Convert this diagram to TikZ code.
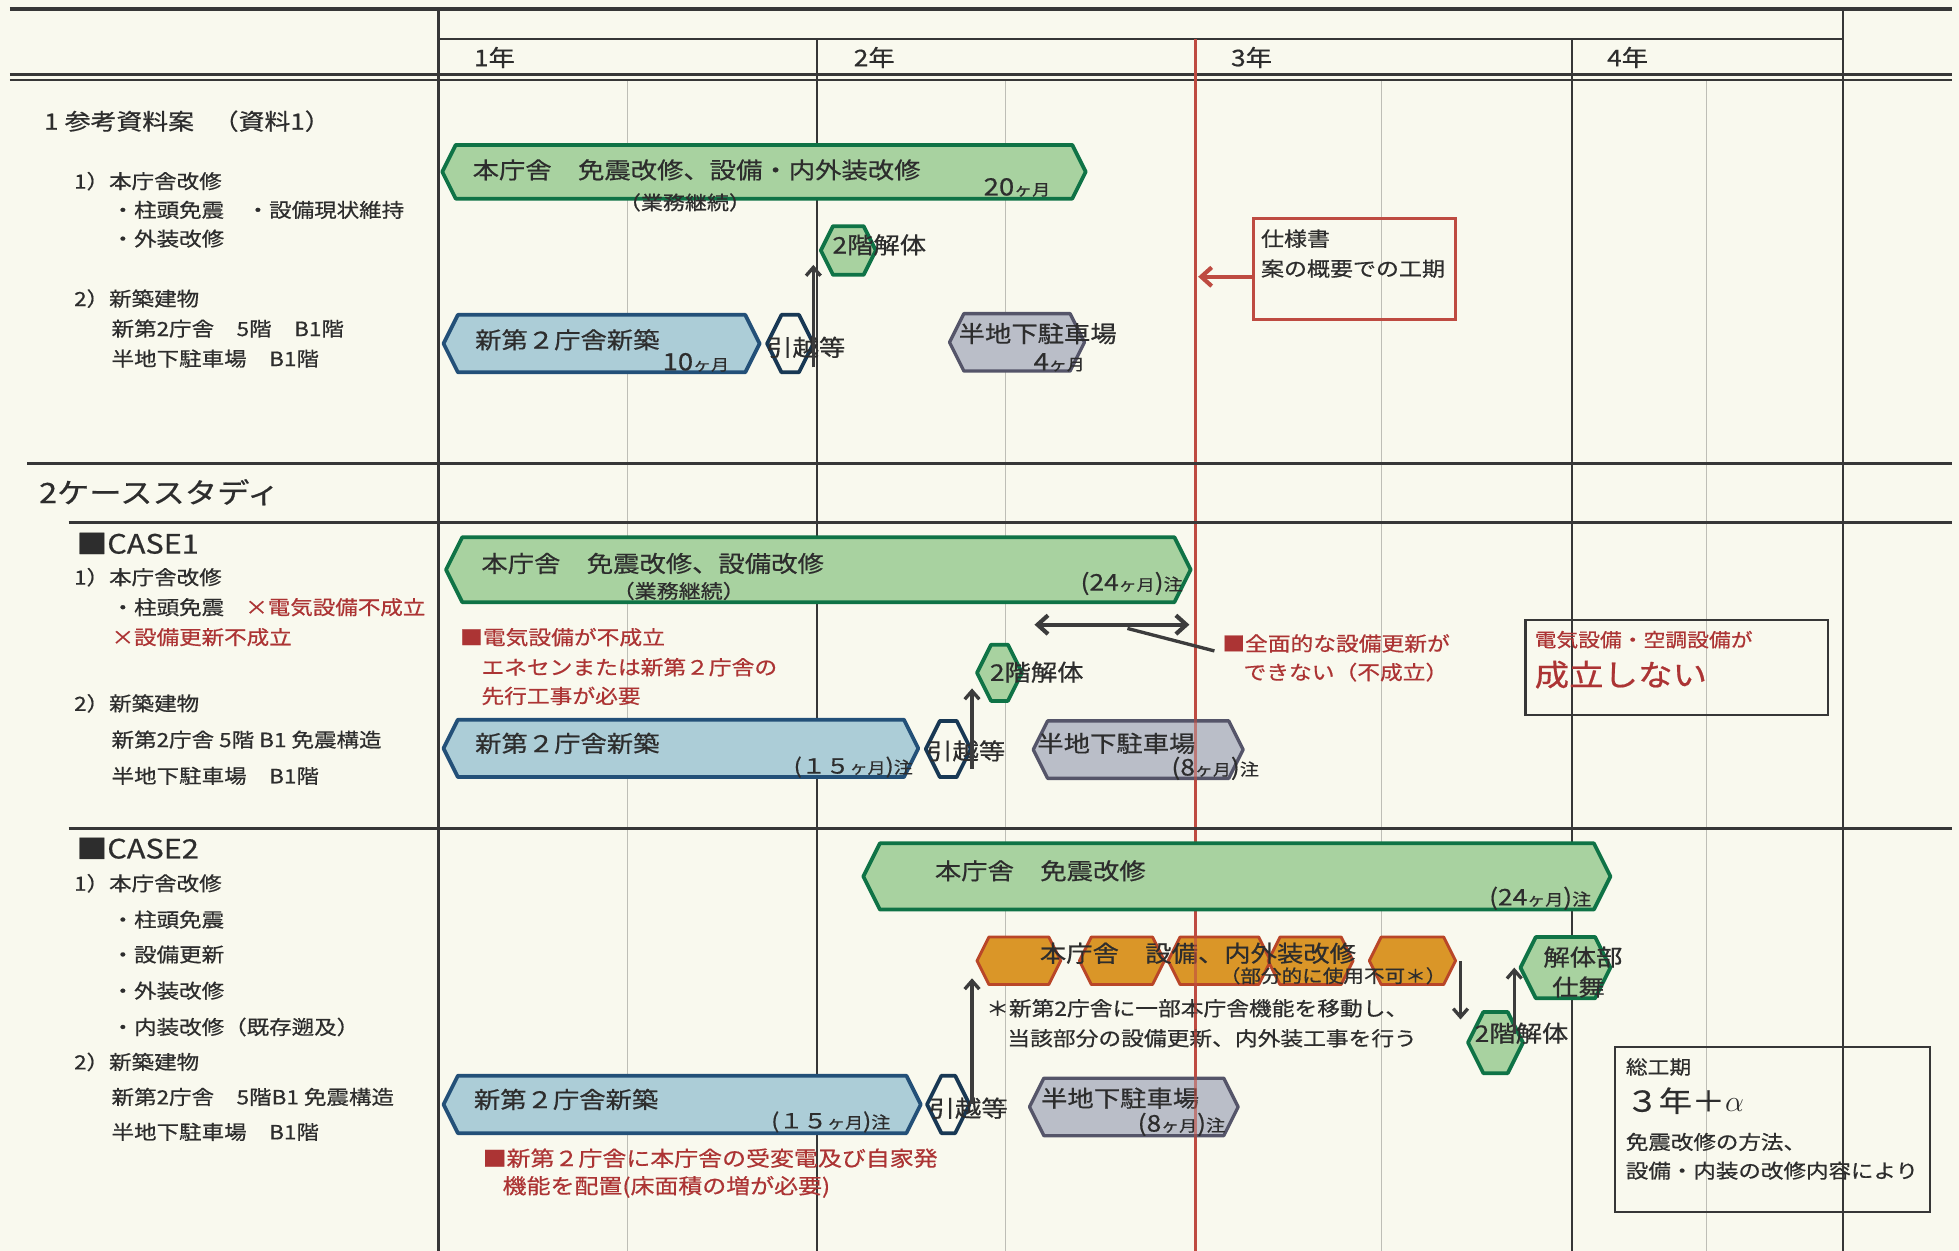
\documentclass[tikz,border=0pt]{standalone}
\usepackage{fontspec}
\setmainfont{Noto Sans CJK JP}[FakeStretch=1.15,FakeBold=0.6]
\usetikzlibrary{arrows.meta,calc}
\definecolor{bgc}{RGB}{249,249,238}
\definecolor{gridc}{RGB}{55,55,55}
\definecolor{thinc}{RGB}{190,190,182}
\definecolor{redl}{RGB}{190,75,65}
\definecolor{redt}{RGB}{172,52,52}
\definecolor{gfill}{RGB}{168,210,160}
\definecolor{gdraw}{RGB}{15,115,70}
\definecolor{bfill}{RGB}{172,205,215}
\definecolor{bdraw}{RGB}{35,80,120}
\definecolor{gyfill}{RGB}{186,190,200}
\definecolor{gydraw}{RGB}{85,85,105}
\definecolor{ofill}{RGB}{218,150,40}
\definecolor{odraw}{RGB}{185,70,40}
\definecolor{txt}{RGB}{45,45,45}
\definecolor{arrc}{RGB}{60,60,60}
\newcommand\myfs[1]{\fontsize{#1}{#1}\selectfont}
\newcommand\kagetsu{{\myfs{7.5pt}ヶ月}}
\newcommand\chu{{\myfs{8pt}注}}
\newcommand\hexbar[6]{%
  \pgfmathsetmacro\hexd{(#5-#3)*0.25}%
  \path[#6] (#2,{(#3+#5)/2}) -- ({#2+\hexd},#3) -- ({#4-\hexd},#3) -- (#4,{(#3+#5)/2}) -- ({#4-\hexd},#5) -- ({#2+\hexd},#5) -- cycle;%
  \node[inner sep=0pt,outer sep=0pt,minimum width={(#4-#2)*0.6pt},minimum height={(#5-#3)*0.6pt}] (#1) at ({(#2+#4)/2},{(#3+#5)/2}) {};%
}
\tikzset{
  t/.style={inner sep=0pt, anchor=west, text=txt},
  lab/.style={t, font={\myfs{9.4pt}}},
  btx/.style={t, font={\myfs{11pt}}},
  sub/.style={t, font={\myfs{9.2pt}}},
  note/.style={t, text=redt, font={\myfs{9.5pt}}},
  yr/.style={t, font={\myfs{11pt}}},
  dur/.style={t, font={\myfs{11.5pt}}},
  gbar/.style={fill=gfill, draw=gdraw, line width=1.8pt, line join=round},
  bbar/.style={fill=bfill, draw=bdraw, line width=1.8pt, line join=round},
  gybar/.style={fill=gyfill, draw=gydraw, line width=1.6pt, line join=round},
  hbar/.style={fill=bgc, draw=bdraw!70!black, line width=1.8pt, line join=round},
  obar/.style={fill=ofill, draw=odraw, line width=1.4pt, line join=round},
  gline/.style={draw=gridc, line width=1pt},
  gthick/.style={draw=gridc, line width=1.5pt},
  thin/.style={draw=thinc, line width=0.6pt},
  arr/.style={draw=arrc, line width=1.6pt, -{Straight Barb[length=4pt,width=7pt]}},
  darr/.style={draw=arrc, line width=2pt, {Straight Barb[length=5pt,width=9pt]}-{Straight Barb[length=5pt,width=9pt]}},
  redarr/.style={draw=redl, line width=2pt, -{Straight Barb[length=5pt,width=9pt]}},
  rbox/.style={draw=redl, line width=1.5pt, inner sep=0pt},
  kbox/.style={draw=gridc, line width=1pt, inner sep=0pt},
}
\begin{document}
\begin{tikzpicture}[x=0.6pt,y=-0.6pt]
\useasboundingbox (0,0) rectangle (1568,1001);
\fill[bgc] (0,0) rectangle (1568,1001);
% thin half-year lines
\foreach \xx in {502,805,1106,1366} \draw[thin] (\xx,64) -- (\xx,1001);
% grid
\draw[gthick, line width=1.8pt] (8,7) -- (1562,7);
\draw[gline] (351,31) -- (1475,31);
\draw[gline, line width=1.2pt] (8,59.5) -- (1562,59.5);
\draw[gline, line width=1.2pt] (8,64) -- (1562,64);
\draw[gthick] (351,7) -- (351,1001);
\draw[gline] (1475,7) -- (1475,1001);
\draw[gline] (654,31) -- (654,1001);
\draw[gline] (1258,31) -- (1258,1001);
\coordinate (redtop) at (957,31);
\coordinate (redbot) at (957,1001);
\draw[draw=redl, line width=1.3pt] (redtop) -- (redbot);
\draw[gthick, line width=1.8pt] (22,371) -- (1562,371);
\draw[gthick] (55,418) -- (1562,418);
\draw[gthick] (55,663) -- (1562,663);
% years
\node[yr] (yr1) at (379,46) {1年};
\node[yr] (yr2) at (683,46) {2年};
\node[yr] (yr3) at (985,46) {3年};
\node[yr] (yr4) at (1286,46) {4年};
% ---------- section 1 ----------
\node[lab, font={\myfs{10.8pt}}] (s1h) at (35,97) {1\hspace{3pt}参考資料案\hspace{9pt}（資料1）};
\node[lab] (s1a) at (59,145) {1）本庁舎改修};
\node[lab] (s1b) at (89,168) {・柱頭免震　・設備現状維持};
\node[lab] (s1c) at (89,191) {・外装改修};
\node[lab] (s1d) at (59,239) {2）新築建物};
\node[lab] (s1e) at (89,263) {新第2庁舎　5階　B1階};
\node[lab] (s1f) at (89,287) {半地下駐車場　B1階};
\hexbar{b1}{354}{116}{869}{159}{gbar}
\node[btx] (b1t) at (378,136) {本庁舎　免震改修、設備・内外装改修};
\node[dur] (b1d) at (787,150) {20\kagetsu};
\node[sub] (b1s) at (495,162) {（業務継続）};
\hexbar{k1}{657}{181}{701}{220}{gbar}
\node[btx] (k1t) at (666,196) {2階解体};
\hexbar{n1}{355}{252}{608}{298}{bbar}
\node[btx] (n1t) at (380,272) {新第２庁舎新築};
\node[dur] (n1d) at (530,290) {10\kagetsu};
\hexbar{h1}{614}{252}{651}{298}{hbar}
\node[btx] (h1t) at (613,278) {引越等};
\hexbar{p1}{760}{251}{868}{297}{gybar}
\node[btx] (p1t) at (767,267) {半地下駐車場};
\node[dur] (p1d) at (827,290) {4\kagetsu};
\draw[arr] ($(h1.south east)+(0,-4)$) -- ($(h1.south east |- k1.south)+(0,-8)$);
\node[rbox, minimum width=97.2pt, minimum height=48.6pt] (sy) at (1084,215.5) {};
\node[t, font={\myfs{9.6pt}}] (syt1) at (1009,191) {仕様書};
\node[t, font={\myfs{9.6pt}}] (syt2) at (1009,215) {案の概要での工期};
\draw[redarr] ($(sy.west)+(0,6)$) -- ($(sy.west -| redtop)+(2,6)$);
% ---------- section 2 / CASE1 ----------
\node[t, font={\myfs{13.5pt}}] (s2h) at (31,394) {2ケーススタディ};
\node[t, font={\myfs{12.8pt}}] (c1h) at (61,435) {■CASE1};
\node[lab] (c1a) at (59,462) {1）本庁舎改修};
\node[lab] (c1b) at (89,486) {・柱頭免震};
\node[lab, text=redt] (c1c) at (196,486) {×電気設備不成立};
\node[lab, text=redt] (c1d) at (89,510) {×設備更新不成立};
\node[lab] (c1e) at (59,563) {2）新築建物};
\node[lab] (c1f) at (89,592) {新第2庁舎 5階 B1 免震構造};
\node[lab] (c1g) at (89,621) {半地下駐車場　B1階};
\hexbar{b2}{357}{430}{953}{482}{gbar}
\node[btx] (b2t) at (385,451) {本庁舎　免震改修、設備改修};
\node[sub] (b2s) at (490,473) {（業務継続）};
\node[t, anchor=east, font={\myfs{11pt}}] (b2d) at (947,467) {(24\kagetsu)\chu};
\coordinate (da1) at (828,500);
\coordinate (da2) at (952,500);
\draw[darr] (da1) -- (da2);
\node[note] (nt1a) at (368,510) {■電気設備が不成立};
\node[note] (nt1b) at (385,534) {エネセンまたは新第２庁舎の};
\node[note] (nt1c) at (385,557) {先行工事が必要};
\node[note] (nt2a) at (978,515) {■全面的な設備更新が};
\node[note] (nt2b) at (995,538) {できない（不成立）};
\draw[draw=arrc, line width=1.6pt] ($(da1)!0.6!(da2)+(0,3)$) -- ($(nt2a.west)+(-6,6)$);
\node[kbox, minimum width=145.2pt, minimum height=45.6pt] (nb) at (1342,534) {};
\node[note, font={\myfs{9.1pt}}] (nbt1) at (1228,512) {電気設備・空調設備が};
\node[note, font={\myfs{14.4pt}}] (nbt2) at (1228,540) {成立しない};
\hexbar{k2}{782}{516}{818}{561}{gbar}
\node[btx] (k2t) at (792,538) {2階解体};
\hexbar{n2}{355}{576}{735}{622}{bbar}
\node[btx] (n2t) at (380,595) {新第２庁舎新築};
\node[t, anchor=east, font={\myfs{10pt}}] (n2d) at (731,614) {(１５\kagetsu)\chu};
\hexbar{h2}{741}{577}{777}{622}{hbar}
\node[btx] (h2t) at (741,601) {引越等};
\draw[arr] ($(h2.east)+(1,16)$) -- ($(h2.east |- k2.south)+(1,-10)$);
\hexbar{p2}{827}{577}{995}{623}{gybar}
\node[btx] (p2t) at (830,595) {半地下駐車場};
\node[t, anchor=east, font={\myfs{11pt}}] (p2d) at (1008,615) {(8\kagetsu)\chu};
% ---------- CASE2 ----------
\node[t, font={\myfs{12.8pt}}] (c2h) at (61,679) {■CASE2};
\node[lab] (c2a) at (59,707) {1）本庁舎改修};
\node[lab] (c2b) at (89,736) {・柱頭免震};
\node[lab] (c2c) at (89,764) {・設備更新};
\node[lab] (c2d) at (89,793) {・外装改修};
\node[lab] (c2e) at (89,822) {・内装改修（既存遡及）};
\node[lab] (c2f) at (59,850) {2）新築建物};
\node[lab] (c2g) at (89,878) {新第2庁舎　5階B1 免震構造};
\node[lab] (c2h2) at (89,906) {半地下駐車場　B1階};
\hexbar{b3}{691}{675}{1289}{728}{gbar}
\node[btx] (b3t) at (748,697) {本庁舎　免震改修};
\node[t, anchor=east, font={\myfs{11pt}}] (b3d) at (1274,719) {(24\kagetsu)\chu};
\hexbar{o1}{782}{750}{849}{788}{obar}
\hexbar{o2}{864}{750}{932}{788}{obar}
\hexbar{o3}{935}{750}{1017}{788}{obar}
\hexbar{o4}{1015}{750}{1083}{788}{obar}
\hexbar{o5}{1096}{750}{1165}{788}{obar}
\node[btx] (o1t) at (832,763) {本庁舎　設備、内外装改修};
\node[t, anchor=east, font={\myfs{8.6pt}}] (o1s) at (1158,781) {（部分的に使用不可＊）};
\node[t, font={\myfs{9.5pt}}] (o1n1) at (789,807) {＊新第2庁舎に一部本庁舎機能を移動し、};
\node[t, font={\myfs{9.5pt}}] (o1n2) at (806,831) {当該部分の設備更新、内外装工事を行う};
\hexbar{k3}{1175}{810}{1219}{859}{gbar}
\node[btx] (k3t) at (1180,827) {2階解体};
\hexbar{kb}{1217}{750}{1289}{799}{gbar}
\node[btx] (kbt1) at (1235,766) {解体部};
\node[btx] (kbt2) at (1242,790) {仕舞};
\draw[arr] ($(o5.east)+(4,0)$) -- ($(o5.east |- k3.north)+(4,6)$);
\draw[arr] ($(k3.north east)+(-7,18)$) -- ($(k3.north east |- kb.west)+(-7,0)$);
\hexbar{n3}{355}{861}{737}{907}{bbar}
\node[btx] (n3t) at (379,880) {新第２庁舎新築};
\node[t, anchor=east, font={\myfs{10pt}}] (n3d) at (713,898) {(１５\kagetsu)\chu};
\hexbar{h3}{742}{861}{776}{907}{hbar}
\node[btx] (h3t) at (743,887) {引越等};
\draw[arr] ($(h3.east)+(2,0)$) -- ($(h3.east |- o1.south)+(2,-5)$);
\hexbar{p3}{824}{863}{991}{909}{gybar}
\node[btx] (p3t) at (833,879) {半地下駐車場};
\node[t, anchor=east, font={\myfs{11pt}}] (p3d) at (981,900) {(8\kagetsu)\chu};
\node[note, font={\myfs{10pt}}] (nt3a) at (386,927) {■新第２庁舎に本庁舎の受変電及び自家発};
\node[note, font={\myfs{10pt}}] (nt3b) at (402,950) {機能を配置(床面積の増が必要)};
\node[kbox, minimum width=151.2pt, minimum height=79.2pt] (tk) at (1419,904) {};
\node[t, font={\myfs{9.1pt}}] (tk1) at (1301,854) {総工期};
\node[t, font={\myfs{13.8pt}}] (tk2) at (1301,881) {３年＋$\alpha$};
\node[t, font={\myfs{9.4pt}}] (tk3) at (1301,914) {免震改修の方法、};
\node[t, font={\myfs{9.4pt}}] (tk4) at (1301,937) {設備・内装の改修内容により};
% red line over lower bars
\draw[draw=redl, line width=1.3pt, opacity=0.6] (957,565) -- (957,660);
\draw[draw=redl, line width=1.3pt, opacity=0.6] (957,735) -- (redbot);
\end{tikzpicture}
\end{document}
